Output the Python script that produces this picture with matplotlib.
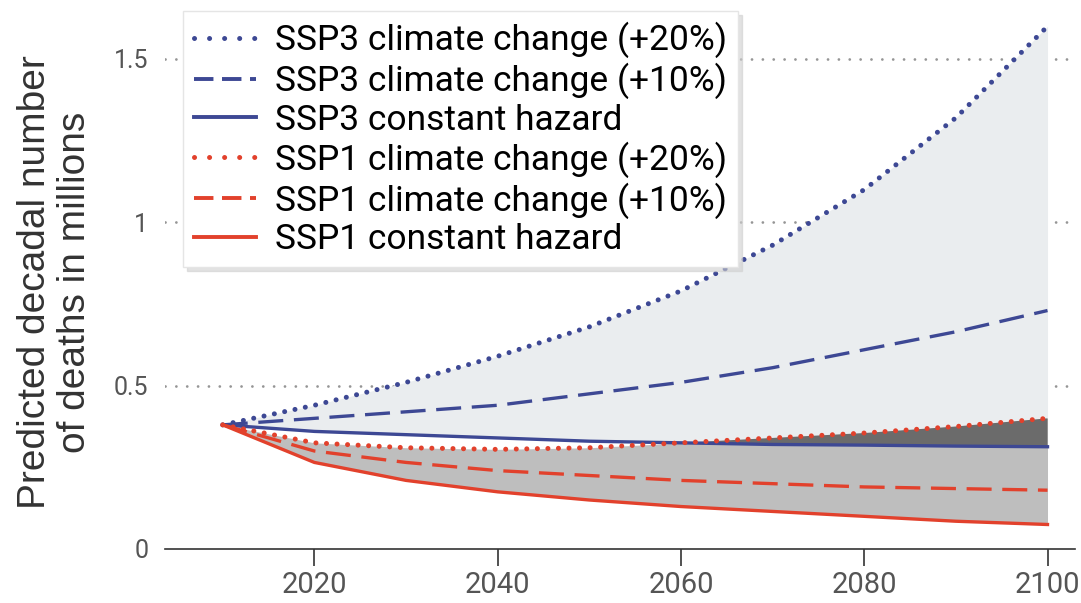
import numpy as np
import matplotlib
matplotlib.use('Agg')
import matplotlib.pyplot as plt
from matplotlib.lines import Line2D

plt.rcParams['font.family'] = ['Roboto', 'DejaVu Sans']

years = [2010, 2020, 2030, 2040, 2050, 2060, 2070, 2080, 2090, 2100]

ssp3_cc20 = [0.38, 0.44, 0.51, 0.59, 0.68, 0.79, 0.93, 1.10, 1.32, 1.60]
ssp3_cc10 = [0.38, 0.40, 0.42, 0.44, 0.475, 0.51, 0.555, 0.61, 0.665, 0.73]
ssp3_const = [0.38, 0.36, 0.35, 0.34, 0.33, 0.325, 0.32, 0.318, 0.315, 0.313]
ssp1_cc20 = [0.38, 0.325, 0.31, 0.305, 0.31, 0.325, 0.34, 0.355, 0.375, 0.40]
ssp1_cc10 = [0.38, 0.30, 0.265, 0.24, 0.225, 0.21, 0.20, 0.19, 0.185, 0.18]
ssp1_const = [0.38, 0.265, 0.21, 0.175, 0.15, 0.13, 0.115, 0.10, 0.085, 0.075]

labels = ['SSP3 climate change (+20%)', 'SSP3 climate change (+10%)',
          'SSP3 constant hazard', 'SSP1 climate change (+20%)',
          'SSP1 climate change (+10%)', 'SSP1 constant hazard']

blue = '#3d4894'
red = '#e2412c'

x = np.array(years)
fig = plt.figure(figsize=(10.81, 6.03), dpi=100)
ax = fig.add_axes([165 / 1081, 54 / 603, 910 / 1081, 539 / 603])

# shaded ranges
ax.fill_between(x, ssp3_const, ssp3_cc20, color='#eaedef', lw=0, zorder=1)
ax.fill_between(x, ssp1_const, ssp1_cc20, color='#bebebe', lw=0, zorder=2)
ax.fill_between(x, ssp3_const, ssp1_cc20,
                where=np.array(ssp1_cc20) >= np.array(ssp3_const),
                interpolate=True, color='#6b6b6b', lw=0, zorder=3)

# grid lines
for yv in [0.5, 1.0, 1.5]:
    ax.axhline(yv, color='#959595', lw=2.0, linestyle=(0, (0.01, 3.9)),
               dash_capstyle='round', zorder=0.5)

dot = (0, (0.01, 2.1))
dash = (0, (7.5, 3.2))
series = [(ssp3_cc20, blue, 'dot'), (ssp3_cc10, blue, 'dash'), (ssp3_const, blue, 'solid'),
          (ssp1_cc20, red, 'dot'), (ssp1_cc10, red, 'dash'), (ssp1_const, red, 'solid')]

handles = []
for (vals, col, st), lab in zip(series, labels):
    if st == 'dot':
        ax.plot(x, vals, color=col, lw=3.6, linestyle=dot, dash_capstyle='round', zorder=5)
        handles.append(Line2D([], [], color=col, lw=3.6, linestyle=(0, (0.01, 3.0)),
                              dash_capstyle='round'))
    elif st == 'dash':
        ax.plot(x, vals, color=col, lw=2.4, linestyle=dash, zorder=5)
        handles.append(Line2D([], [], color=col, lw=2.8, linestyle=(0, (5.0, 2.2))))
    else:
        ax.plot(x, vals, color=col, lw=2.4, zorder=5)
        handles.append(Line2D([], [], color=col, lw=2.8))

ax.set_xlim(2003.7, 2103)
ax.set_ylim(0, 1.65)
ax.set_xticks([2020, 2040, 2060, 2080, 2100])
ax.set_yticks([0, 0.5, 1, 1.5])
ax.set_yticklabels(['0', '0.5', '1', '1.5'])
for s in ['top', 'right', 'left']:
    ax.spines[s].set_visible(False)
ax.spines['bottom'].set_color('#333333')
ax.spines['bottom'].set_linewidth(1.2)
ax.tick_params(axis='x', length=12, width=1.2, color='#333333', labelsize=21,
               labelcolor='#555555', pad=4)
ax.tick_params(axis='y', length=0, labelsize=18, labelcolor='#555555', pad=12)

fig.text(55 / 1081, 1 - 282 / 603, 'Predicted decadal number\nof deaths in millions',
         rotation=90, ha='center', va='center', fontsize=28,
         family=['Liberation Sans', 'DejaVu Sans'], color='#333333',
         linespacing=1.12, multialignment='center')

leg = ax.legend(handles, labels, loc='upper left',
                bbox_to_anchor=(183 / 1081, 1 - 11 / 603),
                bbox_transform=fig.transFigure, fontsize=25.5, frameon=True,
                fancybox=False, handlelength=1.75, handletextpad=0.55,
                labelspacing=0.13, borderpad=0.3, borderaxespad=0,
                shadow={'color': '#d0d0d0', 'alpha': 0.6, 'ox': 3, 'oy': -3})
leg.get_frame().set_edgecolor('#e5e5e5')
leg.get_frame().set_linewidth(1)
leg.set_zorder(10)

fig.savefig('out.png', dpi=100)
